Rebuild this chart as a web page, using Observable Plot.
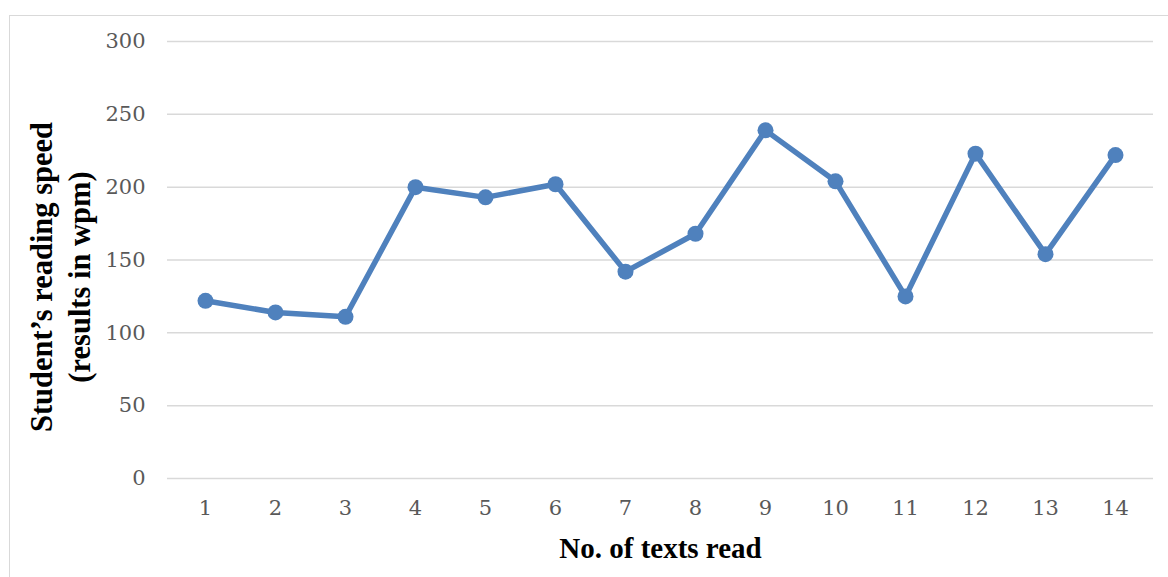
<!DOCTYPE html>
<html>
<head>
<meta charset="utf-8">
<script src="https://cdn.jsdelivr.net/npm/d3@7"></script>
<script src="https://cdn.jsdelivr.net/npm/@observablehq/plot@0.6"></script>
<style>
  html, body { margin: 0; padding: 0; background: #fff; }
  #wrap { position: relative; width: 1168px; height: 577px; overflow: hidden; }
  #border { position: absolute; left: 9px; top: 15px; width: 1200px; height: 620px; border: 1.5px solid #d9d9d9; box-sizing: border-box; }
  #chart { position: absolute; left: 0; top: 0; }
</style>
</head>
<body>
<div id="wrap"><div id="border"></div><div id="chart"></div></div>
<script>
const texts = [1, 2, 3, 4, 5, 6, 7, 8, 9, 10, 11, 12, 13, 14];
const speeds = [122, 114, 111, 200, 193, 202, 142, 168, 239, 204, 125, 223, 154, 222];
const yTicks = [0, 50, 100, 150, 200, 250, 300];
const xTitle = "No. of texts read";
const yTitle = "Student’s reading speed\n(results in wpm)";

const data = texts.map((t, i) => ({text: t, speed: speeds[i]}));

const chart = Plot.plot({
  width: 1168,
  height: 577,
  marginLeft: 167,
  marginRight: 15,
  marginTop: 41,
  marginBottom: 99,
  style: {fontFamily: "'DejaVu Serif', serif", fontSize: "21px", color: "#595959", background: "transparent"},
  x: {type: "point", domain: texts, padding: 0.5},
  y: {domain: [0, 300]},
  marks: [
    Plot.ruleY(yTicks, {stroke: "#d9d9d9", strokeWidth: 1.5}),
    Plot.axisY({ticks: yTicks, tickSize: 0, tickPadding: 22, label: null, fill: "#595959"}),
    Plot.axisX({tickSize: 0, tickPadding: 22, label: null, fill: "#595959"}),
    Plot.line(data, {x: "text", y: "speed", stroke: "#4f81bd", strokeWidth: 5.5, strokeLinejoin: "round"}),
    Plot.dot(data, {x: "text", y: "speed", r: 8, fill: "#4f81bd", stroke: "none"}),
    Plot.text([xTitle], {frameAnchor: "bottom", dy: 79, lineAnchor: "bottom", text: d => d,
      fontFamily: "'Liberation Serif', 'Times New Roman', serif", fontWeight: "bold", fontSize: 29, fill: "black"}),
    Plot.text([yTitle], {frameAnchor: "left", dx: -109, dy: 17, rotate: -90, lineAnchor: "middle", textAnchor: "middle", lineHeight: 1.25, text: d => d,
      fontFamily: "'Liberation Serif', 'Times New Roman', serif", fontWeight: "bold", fontSize: 30.5, fill: "black"})
  ]
});
document.getElementById("chart").appendChild(chart);
</script>
</body>
</html>
